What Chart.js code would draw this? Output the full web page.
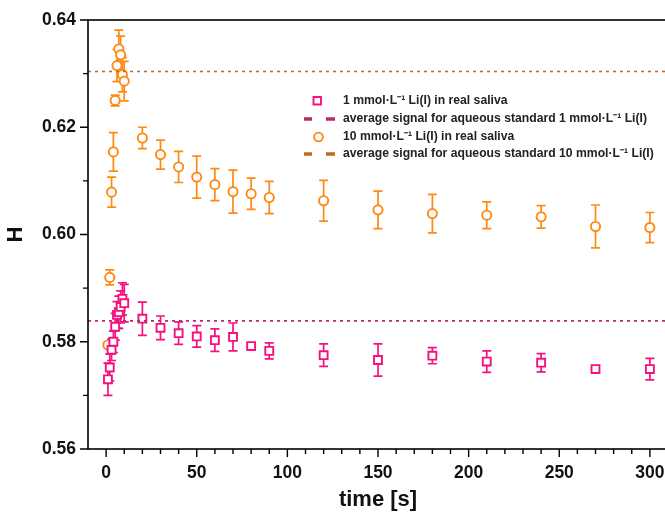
<!DOCTYPE html>
<html>
<head>
<meta charset="utf-8">
<script src="https://cdn.jsdelivr.net/npm/chart.js@4/dist/chart.umd.min.js"></script>
<style>
  html, body { margin: 0; padding: 0; background: #fff; overflow: hidden; }
  #wrap { width: 665px; height: 513px; overflow: hidden; position: relative; }
  #c { display: block; }
</style>
</head>
<body>
<div id="wrap"><canvas id="c" width="680" height="513"></canvas></div>
<script>
// ---- data ----
const timeS = [1,2,3,4,5,6,7,8,9,10,20,30,40,50,60,70,80,90,120,150,180,210,240,270,300];
const H_1mM = [0.5730,0.5752,0.5785,0.5800,0.5828,0.5850,0.5855,0.5865,0.5880,0.5872,0.5843,0.5826,0.5816,0.5810,0.5803,0.5809,0.5792,0.5783,0.5775,0.5766,0.5774,0.5763,0.5761,0.5749,0.5749];
const err_1mM = [0.0030,0.0025,0.0020,0.0020,0.0025,0.0025,0.0030,0.0030,0.0030,0.0035,0.0031,0.0022,0.0021,0.0020,0.0021,0.0026,0.0003,0.0015,0.0021,0.0030,0.0015,0.0020,0.0017,0.0005,0.0020];
const H_10mM = [0.5794,0.5920,0.6079,0.6154,0.6250,0.6315,0.6346,0.6335,0.6298,0.6286,0.6180,0.6149,0.6126,0.6107,0.6093,0.6080,0.6076,0.6069,0.6063,0.6046,0.6039,0.6036,0.6033,0.6015,0.6013];
const err_10mM = [0.0005,0.0014,0.0028,0.0036,0.0010,0.0030,0.0035,0.0035,0.0032,0.0037,0.0020,0.0027,0.0029,0.0039,0.0030,0.0040,0.0029,0.0030,0.0038,0.0035,0.0036,0.0025,0.0021,0.0040,0.0028];
const avgAq_1mM = 0.5839;
const avgAq_10mM = 0.6304;
const xTickValues = [0,50,100,150,200,250,300];
const yTickValues = [0.56,0.58,0.60,0.62,0.64];
const legendLabels = [
  '1 mmol\u00B7L\u207B\u00B9 Li(I) in real saliva',
  'average signal for aqueous standard 1 mmol\u00B7L\u207B\u00B9 Li(I)',
  '10 mmol\u00B7L\u207B\u00B9 Li(I) in real saliva',
  'average signal for aqueous standard 10 mmol\u00B7L\u207B\u00B9 Li(I)'
];

const PINK = '#f5127f';
const ORANGE = '#ff8a12';
const PINK_LINE = '#b82a6c';
const ORANGE_LINE = '#c06a1e';
const AXIS_FONT = "'Liberation Sans Narrow', 'Liberation Sans', Arial, sans-serif";
const TEXT_FONT = "'Liberation Sans', Arial, sans-serif";

const pts = (xs, ys) => xs.map((x, i) => ({x: x, y: ys[i]}));
const X_MIN = -10, X_MAX = 310;

// error bar plugin
const errorBars = {
  id: 'errorBars',
  beforeDatasetsDraw(chart) {
    const {ctx, scales: {x, y}} = chart;
    chart.data.datasets.forEach((ds) => {
      if (!ds.errors) return;
      ctx.save();
      ctx.strokeStyle = ds.borderColor;
      ctx.lineWidth = 1.7;
      ds.data.forEach((p, i) => {
        const e = ds.errors[i];
        const px = x.getPixelForValue(p.x);
        const y1 = y.getPixelForValue(p.y + e);
        const y2 = y.getPixelForValue(p.y - e);
        ctx.beginPath();
        ctx.moveTo(px, y1); ctx.lineTo(px, y2);
        ctx.moveTo(px - 4.5, y1); ctx.lineTo(px + 4.5, y1);
        ctx.moveTo(px - 4.5, y2); ctx.lineTo(px + 4.5, y2);
        ctx.stroke();
      });
      ctx.restore();
    });
  }
};

// frame + tick marks
const frame = {
  id: 'frame',
  afterDraw(chart) {
    const {ctx, chartArea: a, scales: {x, y}} = chart;
    ctx.save();
    ctx.strokeStyle = '#000';
    ctx.lineWidth = 1.6;
    ctx.strokeRect(a.left, a.top, a.right - a.left, a.bottom - a.top);
    ctx.lineWidth = 1.4;
    ctx.beginPath();
    for (let v = 0; v <= 300; v += 10) {
      const px = x.getPixelForValue(v);
      const len = (v % 50 === 0) ? 8 : 5;
      ctx.moveTo(px, a.bottom); ctx.lineTo(px, a.bottom + len);
    }
    for (let k = 0; k <= 8; k++) {
      const v = 0.56 + k * 0.01;
      const py = y.getPixelForValue(v);
      const len = (k % 2 === 0) ? 8 : 5;
      ctx.moveTo(a.left, py); ctx.lineTo(a.left - len, py);
    }
    ctx.stroke();
    ctx.restore();
  }
};

// legend plugin
const legendBox = {
  id: 'legendBox',
  afterDraw(chart) {
    const ctx = chart.ctx;
    ctx.save();
    ctx.font = "bold 12.2px " + TEXT_FONT;
    ctx.fillStyle = '#222';
    ctx.textBaseline = 'middle';
    const rows = [101, 119, 137, 154];
    const tx = 343;
    legendLabels.forEach((t, i) => ctx.fillText(t, tx, rows[i]));
    // markers
    ctx.lineWidth = 1.9;
    ctx.strokeStyle = PINK;
    ctx.fillStyle = '#fff';
    ctx.beginPath(); ctx.rect(313.5, 97, 7.5, 7.5); ctx.fill(); ctx.stroke();
    ctx.strokeStyle = ORANGE;
    ctx.beginPath(); ctx.arc(318.5, rows[2], 4.4, 0, Math.PI * 2); ctx.fill(); ctx.stroke();
    // dashes
    ctx.lineWidth = 3.4;
    [[PINK_LINE, rows[1]], [ORANGE_LINE, rows[3]]].forEach(([c, yy]) => {
      ctx.strokeStyle = c;
      ctx.beginPath();
      ctx.moveTo(304, yy); ctx.lineTo(312, yy);
      ctx.moveTo(326, yy); ctx.lineTo(335, yy);
      ctx.stroke();
    });
    ctx.restore();
  }
};

new Chart(document.getElementById('c'), {
  type: 'scatter',
  data: {
    datasets: [
      {
        label: legendLabels[1],
        type: 'line',
        data: [{x: X_MIN, y: avgAq_1mM}, {x: X_MAX, y: avgAq_1mM}],
        borderColor: PINK_LINE, borderWidth: 1.6, borderDash: [3, 4],
        pointRadius: 0, fill: false
      },
      {
        label: legendLabels[3],
        type: 'line',
        data: [{x: X_MIN, y: avgAq_10mM}, {x: X_MAX, y: avgAq_10mM}],
        borderColor: ORANGE_LINE, borderWidth: 1.6, borderDash: [3, 4],
        pointRadius: 0, fill: false
      },
      {
        label: legendLabels[0],
        data: pts(timeS, H_1mM),
        errors: err_1mM,
        borderColor: PINK, backgroundColor: '#fff',
        pointStyle: 'rect', pointRadius: 5.6, pointBorderWidth: 1.9,
        pointHoverRadius: 5.6
      },
      {
        label: legendLabels[2],
        data: pts(timeS, H_10mM),
        errors: err_10mM,
        borderColor: ORANGE, backgroundColor: '#fff',
        pointStyle: 'circle', pointRadius: 4.6, pointBorderWidth: 1.9,
        pointHoverRadius: 4.6
      }
    ]
  },
  options: {
    responsive: false,
    animation: false,
    events: [],
    layout: { padding: { left: 0, top: 20, right: 12, bottom: 0 } },
    plugins: { legend: { display: false }, tooltip: { enabled: false } },
    scales: {
      x: {
        type: 'linear', min: X_MIN, max: X_MAX,
        afterFit(s) { s.height = 64; },
        afterBuildTicks(s) { s.ticks = xTickValues.map(v => ({value: v})); },
        grid: { display: false },
        border: { display: false },
        ticks: {
          padding: 6, color: '#111',
          font: { family: AXIS_FONT, size: 17.5, weight: 'bold' }
        },
        title: {
          display: true, text: 'time [s]', color: '#111',
          font: { family: AXIS_FONT, size: 22, weight: 'bold' },
          padding: { top: 0, bottom: 0 }
        }
      },
      y: {
        type: 'linear', min: 0.56, max: 0.64,
        afterFit(s) { s.width = 88; },
        afterBuildTicks(s) { s.ticks = yTickValues.map(v => ({value: v})); },
        grid: { display: false },
        border: { display: false },
        ticks: {
          padding: 4, color: '#111',
          font: { family: AXIS_FONT, size: 17.5, weight: 'bold' },
          callback: v => v.toFixed(2)
        },
        title: {
          display: true, text: 'H', color: '#111',
          font: { family: AXIS_FONT, size: 22, weight: 'bold' },
          padding: { top: 3, bottom: 0 }
        }
      }
    }
  },
  plugins: [errorBars, frame, legendBox]
});
</script>
</body>
</html>
